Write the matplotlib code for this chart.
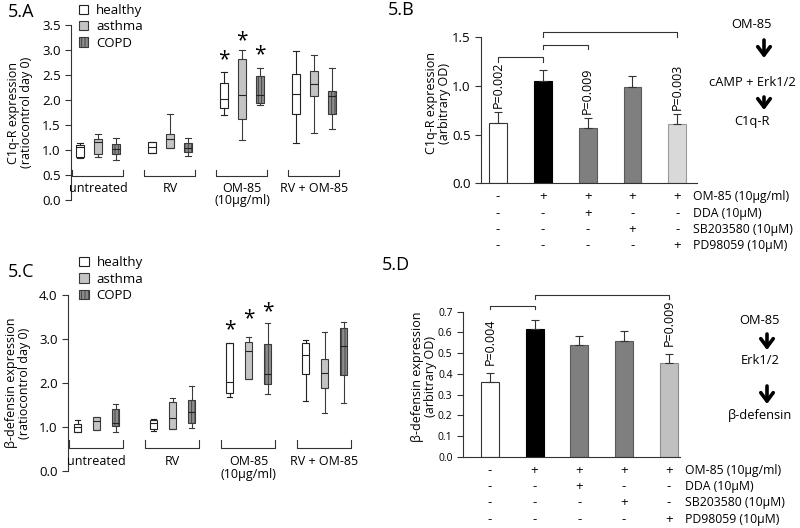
import numpy as np
import matplotlib
matplotlib.use('Agg')
import matplotlib.pyplot as plt
import matplotlib.patches as mpatches

plt.rcParams['font.family'] = ['Open Sans', 'DejaVu Sans']
plt.rcParams['hatch.linewidth'] = 0.6

# ---- data ----
groups = ['untreated', 'RV', 'OM-85\n(10µg/ml)', 'RV + OM-85']
cohorts = ['healthy', 'asthma', 'COPD']

# box stats per group: (whislo, q1, med, q3, whishi)
c1q_healthy = [(0.85, 0.87, 1.06, 1.10, 1.14), (0.94, 0.95, 1.06, 1.16, 1.17),
               (1.70, 1.84, 2.02, 2.35, 2.57), (1.15, 1.73, 2.13, 2.53, 2.99)]
c1q_asthma = [(0.87, 0.92, 1.17, 1.23, 1.33), (1.04, 1.05, 1.23, 1.33, 1.73),
              (1.20, 1.63, 2.10, 2.82, 3.01), (1.35, 2.08, 2.32, 2.59, 2.90)]
c1q_copd = [(0.81, 0.93, 1.02, 1.12, 1.25), (0.88, 0.97, 1.05, 1.15, 1.25),
            (1.90, 1.95, 2.10, 2.47, 2.65), (1.42, 1.73, 2.09, 2.18, 2.65)]

bdef_healthy = [(0.89, 0.89, 1.00, 1.07, 1.16), (0.91, 0.95, 1.10, 1.16, 1.19),
                (1.69, 1.77, 2.03, 2.90, 2.90), (1.59, 2.20, 2.64, 2.92, 2.98)]
bdef_asthma = [(0.93, 0.93, 1.14, 1.22, 1.23), (0.95, 0.95, 1.20, 1.56, 1.65),
               (2.09, 2.09, 2.73, 2.94, 3.04), (1.31, 1.88, 2.22, 2.54, 3.15)]
bdef_copd = [(0.88, 1.03, 1.10, 1.40, 1.52), (0.98, 1.10, 1.33, 1.61, 1.94),
             (1.74, 1.97, 2.20, 2.88, 3.37), (1.55, 2.18, 2.83, 3.24, 3.39)]

treat_rows = ['OM-85 (10µg/ml)', 'DDA (10µM)', 'SB203580 (10µM)', 'PD98059 (10µM)']
treat_signs = [['-', '+', '+', '+', '+'],
               ['-', '-', '+', '-', '-'],
               ['-', '-', '-', '+', '-'],
               ['-', '-', '-', '-', '+']]

c1q_mean = [0.62, 1.05, 0.57, 0.99, 0.61]
c1q_err = [0.11, 0.11, 0.10, 0.11, 0.10]
c1q_pvals = {0: 'P=0.002', 2: 'P=0.009', 4: 'P=0.003'}
c1q_pairs = [(0, 1), (1, 2), (1, 4)]

bdef_mean = [0.36, 0.615, 0.54, 0.56, 0.45]
bdef_err = [0.045, 0.045, 0.045, 0.045, 0.045]
bdef_pvals = {0: 'P=0.004', 4: 'P=0.009'}
bdef_pairs = [(0, 1), (1, 4)]

W, H = 800, 528
fig = plt.figure(figsize=(8, 5.28), dpi=100)


def px_axes(x0, y0, x1, y1):
    # image pixel box -> figure fraction
    return fig.add_axes([x0 / W, 1 - y1 / H, (x1 - x0) / W, (y1 - y0) / H])


box_styles = [dict(fc='white', ec='#222222', hatch=None),
              dict(fc='#c4c4c4', ec='#3a3a3a', hatch=None),
              dict(fc='#8c8c8c', ec='#3a3a3a', hatch='|||||')]


def box_panel(ax, series, ymax, yticks, ylabel, star_off, lab_top, br_y, br_h, leg_xy):
    for c, data in enumerate(series):
        st = box_styles[c]
        stats = [dict(whislo=d[0], q1=d[1], med=d[2], q3=d[3], whishi=d[4], fliers=[])
                 for d in data]
        pos = [g * 4 + c for g in range(len(data))]
        ax.bxp(stats, positions=pos, widths=0.42, patch_artist=True, showfliers=False,
               capwidths=0.3, manage_ticks=False,
               boxprops=dict(facecolor=st['fc'], edgecolor=st['ec'], linewidth=0.8,
                             hatch=st['hatch']),
               whiskerprops=dict(color=st['ec'], linewidth=0.8),
               capprops=dict(color=st['ec'], linewidth=0.8),
               medianprops=dict(color='#222222', linewidth=0.8))
        # significance stars above OM-85 group
        ax.text(pos[2], data[2][4] + star_off[c], '*', ha='center', va='center',
                fontsize=15)
    for g, name in enumerate(groups):
        x0, x1 = g * 4 - 0.45, g * 4 + 2.4
        ax.plot([x0, x0, x1, x1], [br_y + br_h, br_y, br_y, br_y + br_h],
                color='#333333', lw=0.8, clip_on=False)
        ax.text(g * 4 + 1, lab_top, name, ha='center', va='top', fontsize=9,
                linespacing=0.95)
    ax.set_xlim(-0.5, 14.5)
    ax.set_ylim(0, ymax)
    ax.set_yticks(yticks)
    ax.set_yticklabels(['%.1f' % v for v in yticks])
    ax.set_xticks([])
    for s in ['top', 'right', 'bottom']:
        ax.spines[s].set_visible(False)
    ax.spines['left'].set_color('#333333')
    ax.spines['left'].set_linewidth(0.8)
    ax.tick_params(axis='y', direction='out', length=4, width=0.8, labelsize=9.5,
                   color='#333333')
    ax.set_ylabel(ylabel, fontsize=9, linespacing=1.0)
    ax.yaxis.label.set_va('center')
    handles = [mpatches.Patch(facecolor=s['fc'], edgecolor=s['ec'], hatch=s['hatch'],
                              linewidth=0.8) for s in box_styles]
    ax.legend(handles, cohorts, loc='upper left', bbox_to_anchor=leg_xy, frameon=False,
              fontsize=9.5, handlelength=0.7, handleheight=0.7, handletextpad=0.6,
              labelspacing=0.25, borderpad=0, borderaxespad=0)


def bar_panel(ax, means, errs, colors, edges, xlim, ymax, yticks, ylabel, pvals, pad,
              pairs, br_base, br_step, br_h, fs):
    x = np.arange(len(means))
    ax.bar(x, means, width=0.4, color=colors, edgecolor=edges, linewidth=0.8,
           yerr=[np.zeros(len(errs)), errs],
           error_kw=dict(ecolor='#333333', elinewidth=0.8, capsize=3, capthick=0.8))
    for i, txt in pvals.items():
        ax.text(x[i], means[i] + errs[i] + pad, txt, rotation=90, ha='center',
                va='bottom', fontsize=9)
    for k, (a, b) in enumerate(pairs):
        y = br_base + k * br_step
        ax.plot([a, a, b, b], [y - br_h, y, y, y - br_h], color='#333333', lw=0.8,
                clip_on=False)
    for r, signs in enumerate(treat_signs):
        for i, sgn in enumerate(signs):
            ax.annotate(sgn, xy=(x[i], 0), xycoords=('data', 'axes fraction'),
                        xytext=(0, -(13.5 + 16.3 * r)), textcoords='offset pixels',
                        ha='center', va='center', fontsize=9.5, annotation_clip=False)
        ax.annotate(treat_rows[r], xy=(x[-1] + 0.36, 0), xycoords=('data', 'axes fraction'),
                    xytext=(0, -(13.5 + 16.3 * r)), textcoords='offset pixels',
                    ha='left', va='center', fontsize=8.8, annotation_clip=False)
    ax.set_xlim(*xlim)
    ax.set_ylim(0, ymax)
    ax.set_yticks(yticks)
    ax.set_yticklabels(['%.1f' % v for v in yticks])
    ax.set_xticks([])
    for s in ['top', 'right']:
        ax.spines[s].set_visible(False)
    for s in ['left', 'bottom']:
        ax.spines[s].set_color('#333333')
        ax.spines[s].set_linewidth(0.8)
    ax.tick_params(axis='y', direction='out', length=4, width=0.8, labelsize=fs,
                   color='#333333')
    ax.set_ylabel(ylabel, fontsize=9, linespacing=1.0)
    ax.yaxis.label.set_va('center')


def pathway(ax, steps, x, ys, arrows, ax_x):
    for txt, y in zip(steps, ys):
        fig.text(x / W, 1 - y / H, txt, ha='center', va='center', fontsize=9.3)
    for y0, y1 in arrows:
        ax.annotate('', xy=(ax_x, H - y1), xytext=(ax_x, H - y0),
                    xycoords='figure pixels', annotation_clip=False,
                    arrowprops=dict(arrowstyle='->,head_length=0.6,head_width=0.45',
                                    lw=2.6, color='black', shrinkA=0, shrinkB=0))


# ---- 5.A ----
axA = px_axes(71, 25, 341, 200)
box_panel(axA, [c1q_healthy, c1q_asthma, c1q_copd], 3.5, np.arange(0, 3.51, 0.5),
          'C1q-R expression\n(ratiocontrol day 0)', [0.23, 0.17, 0.26], 0.37, 0.48, 0.12,
          (0.03, 1.12))
axA.yaxis.set_label_coords(-0.19, 0.5)

# ---- 5.C ----
axC = px_axes(68, 295, 353, 471)
box_panel(axC, [bdef_healthy, bdef_asthma, bdef_copd], 4.0, np.arange(0, 4.01, 1.0),
          'β-defensin expression\n(ratiocontrol day 0)', [0.30, 0.43, 0.25], 0.36, 0.52, 0.18,
          (0.04, 1.22))
axC.yaxis.set_label_coords(-0.175, 0.5)

# ---- 5.B ----
axB = px_axes(481, 37.3, 697, 183.3)
bar_panel(axB, c1q_mean, c1q_err, ['white', 'black', '#7f7f7f', '#7f7f7f', '#d9d9d9'],
          ['#333333', 'black', '#5a5a5a', '#5a5a5a', '#9a9a9a'], (-0.38, 4.44), 1.5,
          [0, 0.5, 1.0, 1.5], 'C1q-R expression\n(arbitrary OD)', c1q_pvals, 0.04,
          c1q_pairs, 1.30, 0.125, 0.05, 9.5)
axB.yaxis.set_label_coords(-0.2, 0.55)

# ---- 5.D ----
axD = px_axes(463, 311.7, 680, 456.7)
bar_panel(axD, bdef_mean, bdef_err, ['white', 'black', '#7f7f7f', '#7f7f7f', '#c0c0c0'],
          ['#333333', 'black', '#5a5a5a', '#5a5a5a', '#8a8a8a'], (-0.6, 4.25), 0.7,
          np.arange(0, 0.71, 0.1), 'β-defensin expression\n(arbitrary OD)', bdef_pvals, 0.04,
          bdef_pairs, 0.729, 0.052, 0.018, 7.5)
axD.yaxis.set_label_coords(-0.18, 0.55)

# pathways
pathway(axB, ['OM-85', 'cAMP + Erk1/2', 'C1q-R'], 752, [25, 83, 121], [(40, 58), (97, 110)], 764)
pathway(axD, ['OM-85', 'Erk1/2', 'β-defensin'], 760, [321, 360, 416], [(334, 350), (386, 404)], 767)

# panel labels
for lab, x, y in [('5.A', 8, 12), ('5.B', 388, 10), ('5.C', 8, 272), ('5.D', 382, 265)]:
    fig.text(x / W, 1 - y / H, lab, ha='left', va='center', fontsize=13)

fig.savefig('out.png', dpi=100)
